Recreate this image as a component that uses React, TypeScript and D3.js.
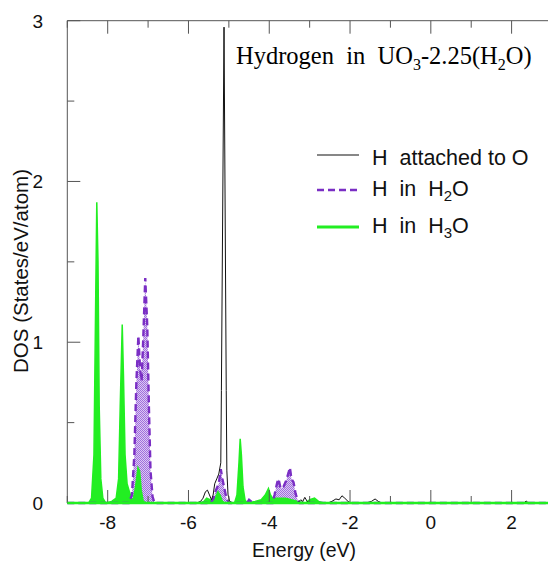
import React from "react";
import * as d3 from "d3";

// ---------- data ----------
const blackSeries: [number, number][] = [
  [-9, 0], [-5.8, 0], [-5.7, 0.01], [-5.64, 0.03], [-5.58, 0.07], [-5.53, 0.08], [-5.48, 0.05],
  [-5.43, 0.02], [-5.39, 0.05], [-5.35, 0.12], [-5.3, 0.15], [-5.25, 0.18], [-5.2, 0.25],
  [-5.185, 0.7], [-5.12, 2.96], [-5.065, 0.7], [-5.05, 0.2], [-5.02, 0.05], [-4.98, 0.01],
  [-4.9, 0], [-3.3, 0], [-3.22, 0.02], [-3.17, 0.01], [-3.12, 0.035], [-3.06, 0.01], [-3.0, 0],
  [-2.55, 0], [-2.45, 0.01], [-2.35, 0.025], [-2.27, 0.02], [-2.2, 0.045], [-2.13, 0.03],
  [-2.05, 0.01], [-1.98, 0], [-1.6, 0], [-1.47, 0.01], [-1.38, 0.025], [-1.3, 0.01],
  [-1.22, 0], [2.3, 0], [2.36, 0.012], [2.42, 0], [3, 0],
];

const purpleSeries: [number, number][] = [
  [-9, 0], [-7.48, 0], [-7.4, 0.05], [-7.34, 0.3], [-7.29, 0.75], [-7.24, 1.04], [-7.2, 0.84],
  [-7.16, 0.76], [-7.12, 1.02], [-7.07, 1.4], [-7.02, 1.1], [-6.98, 0.6], [-6.94, 0.2],
  [-6.89, 0.04], [-6.84, 0], [-5.45, 0], [-5.38, 0.03], [-5.32, 0.08], [-5.25, 0.12],
  [-5.2, 0.21], [-5.16, 0.15], [-5.12, 0.1], [-5.06, 0.03], [-5.0, 0], [-4.55, 0],
  [-4.5, 0.02], [-4.45, 0.01], [-4.4, 0], [-3.92, 0], [-3.87, 0.05], [-3.8, 0.13],
  [-3.77, 0.15], [-3.72, 0.09], [-3.65, 0.1], [-3.58, 0.14], [-3.52, 0.19], [-3.49, 0.22],
  [-3.45, 0.15], [-3.4, 0.13], [-3.35, 0.06], [-3.3, 0.02], [-3.25, 0], [3, 0],
];

const greenSeries: [number, number][] = [
  [-9, 0], [-8.47, 0], [-8.4, 0.03], [-8.34, 0.3], [-8.3, 1.2], [-8.27, 1.87], [-8.24, 1.5],
  [-8.21, 0.6], [-8.17, 0.15], [-8.12, 0.03], [-8.05, 0], [-7.9, 0.01], [-7.79, 0.03],
  [-7.73, 0.15], [-7.69, 0.6], [-7.64, 1.11], [-7.61, 0.8], [-7.57, 0.3], [-7.52, 0.12],
  [-7.45, 0.06], [-7.4, 0.02], [-7.36, 0.03], [-7.31, 0.1], [-7.25, 0.22], [-7.21, 0.2],
  [-7.17, 0.08], [-7.12, 0.01], [-7.05, 0], [-5.7, 0], [-5.62, 0.01], [-5.55, 0.03],
  [-5.47, 0.02], [-5.38, 0.01], [-5.32, 0.04], [-5.27, 0.07], [-5.22, 0.05], [-5.16, 0.01],
  [-5.1, 0], [-4.86, 0], [-4.8, 0.05], [-4.75, 0.25], [-4.72, 0.4], [-4.69, 0.3],
  [-4.65, 0.1], [-4.6, 0.02], [-4.55, 0], [-4.35, 0.01], [-4.2, 0.02], [-4.1, 0.05],
  [-4.02, 0.09], [-3.97, 0.05], [-3.92, 0.03], [-3.8, 0.03], [-3.6, 0.03], [-3.45, 0.02],
  [-3.3, 0.01], [-3.1, 0], [-3.0, 0.02], [-2.88, 0.03], [-2.78, 0.01], [-2.65, 0], [3, 0],
];

const xMajorTicks = [-8, -6, -4, -2, 0, 2];
const xMinorTicks = [-9, -7, -5, -3, -1, 1, 3];
const yMajorTicks = [0, 1, 2, 3];
const yMinorTicks = [0.5, 1.5, 2.5];

// ---------- layout ----------
const W = 548;
const H = 561;
const left = 67.3;
const top = 20.7;
const bottom = 503;
const xScale = d3.scaleLinear().domain([-9, 3]).range([left, 430.5 + 3 * 40.5]);
const yScale = d3.scaleLinear().domain([0, 3]).range([bottom, top]);
const right = xScale(3);

const lineGen = d3
  .line<[number, number]>()
  .x((d) => xScale(d[0]))
  .y((d) => yScale(d[1]));
const areaGen = d3
  .area<[number, number]>()
  .x((d) => xScale(d[0]))
  .y0(yScale(0))
  .y1((d) => yScale(d[1]));

const axisColor = "#555";
const green = "#22ee22";
const purple = "#7a2ec4";
const sans = "'Liberation Sans', Arial, sans-serif";
const serif = "'Liberation Serif', 'Times New Roman', serif";

export default function App() {
  return (
    <svg width={W} height={H} style={{ position: "absolute", left: 0, top: 0 }}>
      <defs>
        <pattern id="stip" width="2" height="2" patternUnits="userSpaceOnUse">
          <rect width="2" height="2" fill="#dcc8f4" />
          <rect width="1" height="1" fill="#a070dc" />
          <rect x="1" y="1" width="1" height="1" fill="#a070dc" />
        </pattern>
        <clipPath id="plot">
          <rect x={left} y={top} width={right - left} height={bottom - top + 2} />
        </clipPath>
      </defs>
      <rect width={W} height={H} fill="#fff" />

      <g clipPath="url(#plot)">
        <path d={areaGen(purpleSeries) || ""} fill="url(#stip)" />
        <path d={areaGen(greenSeries) || ""} fill={green} />
        <path d={lineGen(greenSeries) || ""} fill="none" stroke={green} strokeWidth={1.5} />
        <path
          d={lineGen(purpleSeries) || ""}
          fill="none"
          stroke={purple}
          strokeWidth={2.4}
          strokeDasharray="7,4"
        />
        <path d={lineGen(blackSeries) || ""} fill="none" stroke="#111" strokeWidth={1} />
      </g>

      {/* frame */}
      <line x1={left} y1={top} x2={right} y2={top} stroke={axisColor} strokeWidth={1} />
      <line x1={left} y1={top} x2={left} y2={bottom} stroke={axisColor} strokeWidth={1} />

      {/* x ticks */}
      {xMajorTicks.map((t) => (
        <g key={"xM" + t}>
          <line x1={xScale(t)} x2={xScale(t)} y1={bottom} y2={bottom - 13} stroke={axisColor} />
          <line x1={xScale(t)} x2={xScale(t)} y1={top} y2={top + 13} stroke={axisColor} />
          <text
            x={xScale(t)}
            y={529}
            textAnchor="middle"
            fontFamily={sans}
            fontSize={19}
            fill="#111"
          >
            {t}
          </text>
        </g>
      ))}
      {xMinorTicks.map((t) => (
        <g key={"xm" + t}>
          <line x1={xScale(t)} x2={xScale(t)} y1={bottom} y2={bottom - 7} stroke={axisColor} />
          <line x1={xScale(t)} x2={xScale(t)} y1={top} y2={top + 7} stroke={axisColor} />
        </g>
      ))}
      {/* y ticks */}
      {yMajorTicks.map((t) => (
        <g key={"yM" + t}>
          <line x1={left} x2={left + 13} y1={yScale(t)} y2={yScale(t)} stroke={axisColor} />
          <text
            x={43}
            y={yScale(t) + 7}
            textAnchor="end"
            fontFamily={sans}
            fontSize={19}
            fill="#111"
          >
            {t}
          </text>
        </g>
      ))}
      {yMinorTicks.map((t) => (
        <line
          key={"ym" + t}
          x1={left}
          x2={left + 7}
          y1={yScale(t)}
          y2={yScale(t)}
          stroke={axisColor}
        />
      ))}

      {/* green baseline */}
      <line x1={left} x2={right} y1={bottom} y2={bottom} stroke={green} strokeWidth={2.5} />

      {/* axis titles */}
      <text x={304} y={557} textAnchor="middle" fontFamily={sans} fontSize={19.5} fill="#111">
        Energy (eV)
      </text>
      <text
        transform={`translate(28,271) rotate(-90)`}
        textAnchor="middle"
        fontFamily={sans}
        fontSize={20.5}
        fill="#111"
      >
        DOS (States/eV/atom)
      </text>

      {/* title */}
      <text x={236} y={64} fontFamily={serif} fontSize={24.5} fill="#000" style={{ whiteSpace: "pre" }}>
        {"Hydrogen  in  UO"}
        <tspan fontSize={16} dy={6}>3</tspan>
        <tspan dy={-6}>-2.25(H</tspan>
        <tspan fontSize={16} dy={6}>2</tspan>
        <tspan dy={-6}>O)</tspan>
      </text>

      {/* legend */}
      <line x1={317} x2={359} y1={155} y2={155} stroke="#111" strokeWidth={1.2} />
      <text x={372} y={165} fontFamily={sans} fontSize={21.5} fill="#111" style={{ whiteSpace: "pre" }}>
        {"H  attached to O"}
      </text>
      <line
        x1={317}
        x2={359}
        y1={190}
        y2={190}
        stroke={purple}
        strokeWidth={2.4}
        strokeDasharray="7,4"
      />
      <text x={372} y={196} fontFamily={sans} fontSize={21.5} fill="#111" style={{ whiteSpace: "pre" }}>
        {"H  in  H"}
        <tspan fontSize={15} dy={5}>2</tspan>
        <tspan dy={-5}>O</tspan>
      </text>
      <line x1={317} x2={359} y1={227} y2={227} stroke={green} strokeWidth={3} />
      <text x={372} y={233} fontFamily={sans} fontSize={21.5} fill="#111" style={{ whiteSpace: "pre" }}>
        {"H  in  H"}
        <tspan fontSize={15} dy={5}>3</tspan>
        <tspan dy={-5}>O</tspan>
      </text>
    </svg>
  );
}
